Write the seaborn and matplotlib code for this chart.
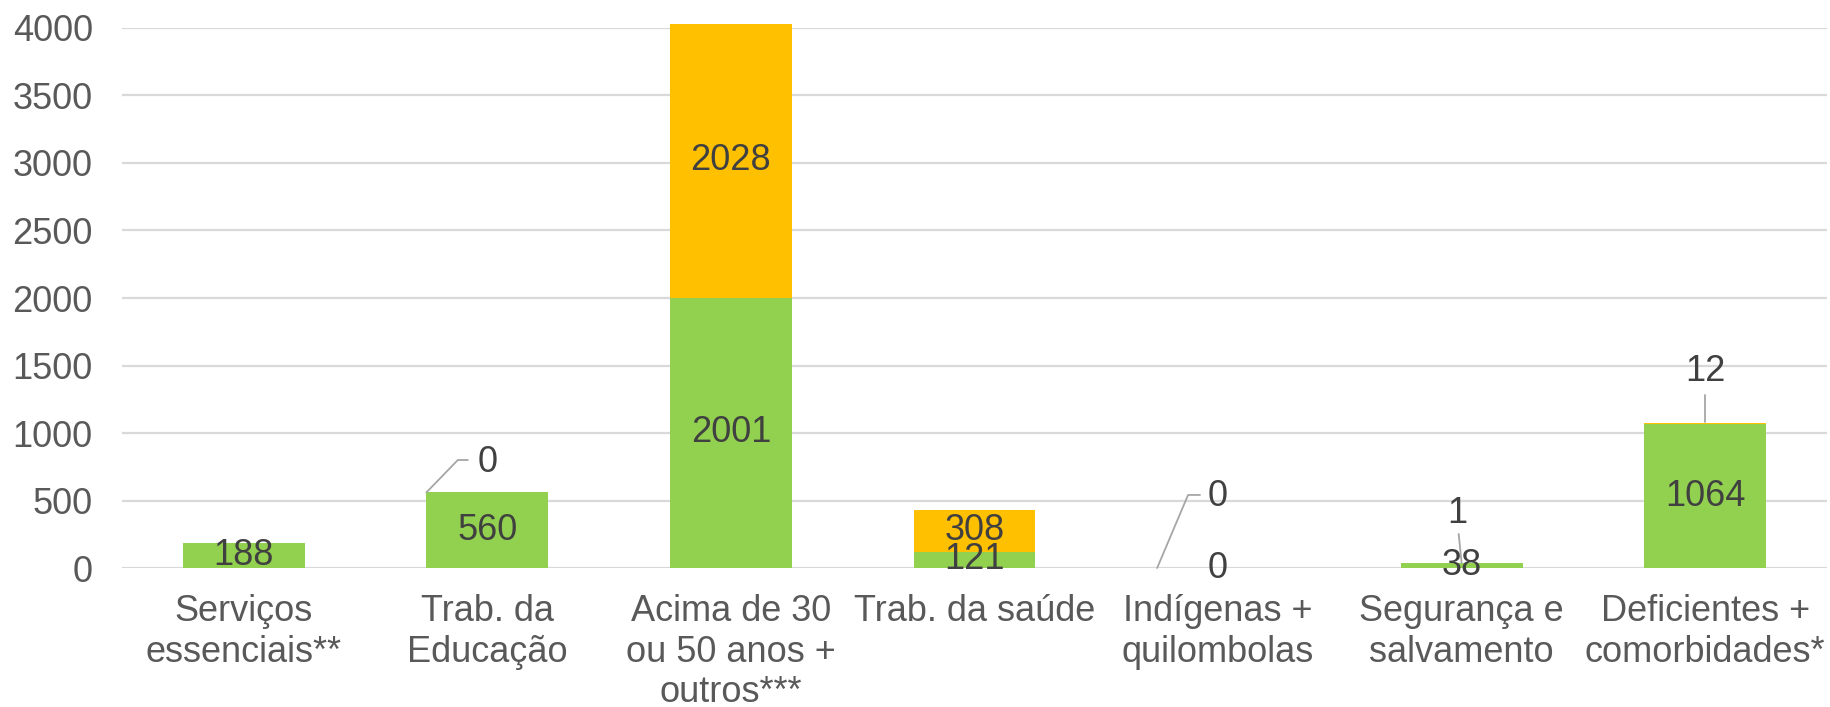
import matplotlib
matplotlib.use("Agg")
import matplotlib.pyplot as plt
import seaborn as sns
import pandas as pd

# Categories and the two stacked series
categories = [
    "Serviços\nessenciais**",
    "Trab. da\nEducação",
    "Acima de 30\nou 50 anos +\noutros***",
    "Trab. da saúde",
    "Indígenas +\nquilombolas",
    "Segurança e\nsalvamento",
    "Deficientes +\ncomorbidades*",
]
green_values = [188, 560, 2001, 121, 0, 38, 1064]
orange_values = [0, 0, 2028, 308, 0, 1, 12]
y_ticks = [0, 500, 1000, 1500, 2000, 2500, 3000, 3500, 4000]

GREEN = "#92D050"
ORANGE = "#FFC000"
LABEL_COLOR = "#404040"
TICK_COLOR = "#595959"
GRID_COLOR = "#D9D9D9"
LEADER_COLOR = "#A6A6A6"

sns.set_theme(style="white")
plt.rcParams["font.family"] = ["Liberation Sans", "DejaVu Sans"]

df = pd.DataFrame({
    "cat": categories,
    "green": green_values,
    "orange": orange_values,
})
df["total"] = df["green"] + df["orange"]

fig = plt.figure(figsize=(18.31, 7.07), dpi=100)
ax = fig.add_axes([0.0666, 0.1966, 0.9312, 0.7638])

# Stacked look: full totals in orange, green part drawn over them
sns.barplot(data=df, x="cat", y="total", color=ORANGE, saturation=1,
            width=0.5, linewidth=0, ax=ax, errorbar=None, zorder=3)
sns.barplot(data=df, x="cat", y="green", color=GREEN, saturation=1,
            width=0.5, linewidth=0, ax=ax, errorbar=None, zorder=3)
for p in ax.patches:
    p.set_clip_on(False)

fs = 26
ax.set_ylim(0, 4000)
ax.set_xlim(-0.5, len(categories) - 0.5)
ax.set_yticks(y_ticks)
ax.set_yticklabels([str(t) for t in y_ticks])
ax.yaxis.grid(True, color=GRID_COLOR, linewidth=1.6, zorder=0)
ax.set_axisbelow(True)
for s in ax.spines.values():
    s.set_visible(False)
ax.set_xlabel("")
ax.set_ylabel("")
ax.tick_params(axis="y", length=0, pad=21, labelsize=fs, labelcolor=TICK_COLOR)
ax.tick_params(axis="x", length=0, pad=19, labelsize=fs, labelcolor=TICK_COLOR)
for lbl in ax.get_xticklabels():
    lbl.set_linespacing(1.2)
    lbl.set_horizontalalignment("center")

# Green segment labels, centred in the segment
for i, g in enumerate(green_values):
    ax.text(i, g / 2, str(g), ha="center", va="center", fontsize=fs,
            color=LABEL_COLOR, zorder=5)

# Orange segment labels inside the larger segments
for i, (g, o) in enumerate(zip(green_values, orange_values)):
    if o >= 300:
        ax.text(i, g + o / 2, str(o), ha="center", va="center", fontsize=fs,
                color=LABEL_COLOR, zorder=5)

def leader(xs, ys):
    ax.plot(xs, ys, color=LEADER_COLOR, linewidth=1.3, zorder=4, clip_on=False)

# Trab. da Educação: label above, leader from bar corner
i = 1
top = green_values[i] + orange_values[i]
ax.text(i, top + 218, str(orange_values[i]), ha="center", va="center",
        fontsize=fs, color=LABEL_COLOR, zorder=5)
leader([i - 0.25, i - 0.121, i - 0.08], [top, top + 240, top + 240])

# Indígenas + quilombolas
i = 4
top = green_values[i] + orange_values[i]
ax.text(i, top + 526, str(orange_values[i]), ha="center", va="center",
        fontsize=fs, color=LABEL_COLOR, zorder=5)
leader([i - 0.25, i - 0.123, i - 0.074], [top, top + 541, top + 541])

# Segurança e salvamento
i = 5
top = green_values[i] + orange_values[i]
ax.text(i - 0.016, top + 368, str(orange_values[i]), ha="center", va="center",
        fontsize=fs, color=LABEL_COLOR, zorder=5)
leader([i - 0.012, i], [top + 213, top - 2])

# Deficientes + comorbidades
i = 6
top = green_values[i] + orange_values[i]
ax.text(i, top + 376, str(orange_values[i]), ha="center", va="center",
        fontsize=fs, color=LABEL_COLOR, zorder=5)
leader([i, i], [top + 205, top + 5])

fig.savefig("out.png", dpi=100)
